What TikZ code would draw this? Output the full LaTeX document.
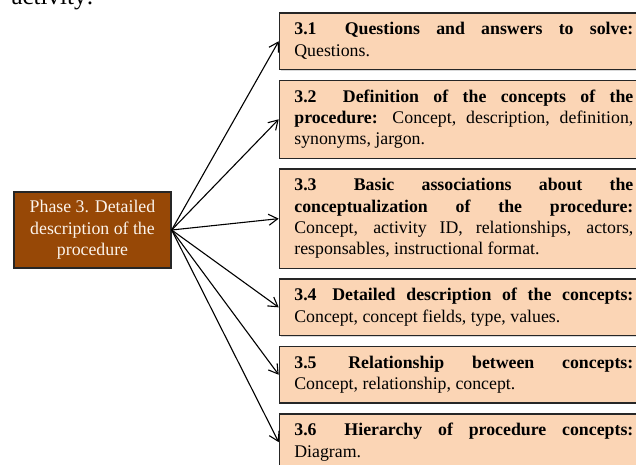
\documentclass[tikz,border=0pt]{standalone}
\usepackage{fontspec}
\setmainfont{Liberation Serif}
\usepackage{tikz}
\usetikzlibrary{arrows.meta,positioning,shadows}
\definecolor{phasebrown}{RGB}{151,72,6}
\definecolor{stepfill}{RGB}{251,213,181}
\definecolor{boxline}{RGB}{38,38,38}
\definecolor{phasetext}{RGB}{252,244,236}

\begin{document}
\begin{tikzpicture}[
    x=1pt, y=1pt,
    phase/.style={
        rectangle, draw=boxline, line width=1.3pt, fill=phasebrown,
        text=phasetext,
        minimum width=157pt, minimum height=76pt,
        align=center, inner sep=2pt,
        font=\fontsize{17.8}{21.3}\selectfont,
        drop shadow={shadow xshift=1.2pt, shadow yshift=-1.2pt, opacity=0.3}
    },
    substep/.style={
        rectangle, draw=boxline, line width=1.3pt, fill=stepfill,
        text width=339pt, align=justify,
        inner xsep=15pt, inner ysep=7pt,
        font=\fontsize{17.8}{21.3}\selectfont,
        drop shadow={shadow xshift=1.2pt, shadow yshift=-1.2pt, opacity=0.3}
    },
    link/.style={-{Straight Barb[length=9pt,width=11pt]}, line width=1.1pt}
]

\useasboundingbox (0,0) rectangle (636,464);
\clip (0,0) rectangle (636,464);

\node[anchor=base west, font=\fontsize{25}{30}\selectfont] (lead) at (8,459) {activity:};

\node[phase] (phase) at (92.5,234) {Phase 3. Detailed\\description of the\\procedure};

\node[substep, anchor=north west] (s31) at (278.7,451.7)
    {\strut\textbf{3.1\hspace{12pt} Questions and answers to solve:}\linebreak Questions.\strut};
\node[substep, below=9.5pt of s31] (s32)
    {\strut\textbf{3.2\hspace{12pt} Definition of the concepts of the}\linebreak \textbf{procedure:} Concept, description, definition,\linebreak synonyms, jargon.\strut};
\node[substep, below=9.5pt of s32] (s33)
    {\strut\textbf{3.3\hspace{10pt} Basic associations about the}\linebreak \textbf{conceptualization of the procedure:}\linebreak Concept, activity ID, relationships, actors,\linebreak responsables, instructional format.\strut};
\node[substep, below=9.5pt of s33] (s34)
    {\strut\textbf{3.4\hspace{5pt} Detailed description of the concepts:}\linebreak Concept, concept fields, type, values.\strut};
\node[substep, below=9.5pt of s34] (s35)
    {\strut\textbf{3.5\hspace{4pt} Relationship between concepts:}\linebreak Concept, relationship, concept.\strut};
\node[substep, below=9.5pt of s35] (s36)
    {\strut\textbf{3.6\hspace{12pt} Hierarchy of procedure concepts:}\linebreak Diagram.\strut};

\draw[link] (phase.east) -- (s31.west);
\draw[link] (phase.east) -- (s32.west);
\draw[link] (phase.east) -- (s33.west);
\draw[link] (phase.east) -- (s34.west);
\draw[link] (phase.east) -- (s35.west);
\draw[link] (phase.east) -- (s36.west);

\end{tikzpicture}
\end{document}
